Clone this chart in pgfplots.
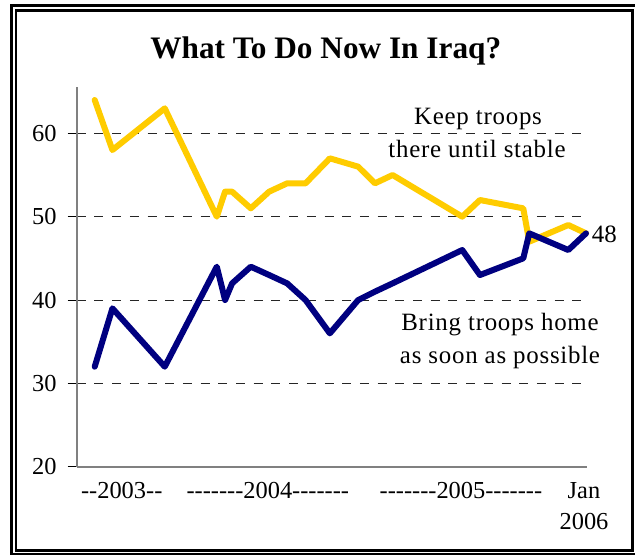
\documentclass[border=0pt]{standalone}
\usepackage{fontspec}
\setmainfont{Liberation Serif}
\usepackage{pgfplots}
\pgfplotsset{compat=1.18}
\definecolor{gold}{HTML}{FFCC00}
\definecolor{navyb}{HTML}{000080}
\newcommand\hy{\mbox{-}}
\newcommand\sev{\hy\hy\hy\hy\hy\hy\hy}
\begin{document}
\begin{tikzpicture}[x=1bp,y=1bp]
\useasboundingbox (0,0) rectangle (635,-556);
\fill[white] (0,0) rectangle (635,-556);
\draw[line width=2.7bp] (11.3,-5.3) rectangle (637.5,-554);
\draw[line width=2.5bp] (16,-10.5) rectangle (632.5,-550.5);
\node[font=\fontsize{31.4}{36}\selectfont\bfseries, anchor=base, inner sep=0pt] at (325.8,-58.3) {What To Do Now In Iraq?};
\begin{axis}[at={(76.7bp,-466.7bp)}, anchor=south west, scale only axis,
  width=510.3bp, height=379.2bp,
  xmin=77, xmax=587, ymin=20, ymax=65.5,
  axis lines=left,
  axis line style={-, draw=gray, line width=1.6bp},
  ytick={20,30,40,50,60},
  ymajorgrids,
  major grid style={black!85, line width=0.8bp, dash pattern=on 9bp off 8.7bp},
  tick align=outside,
  major tick length=9bp,
  ytick style={black, line width=0.8bp},
  xtick style={draw=none},
  xtick={122,268,461,584},
  xticklabels={\hy\hy2003\hy\hy, \sev2004\sev, \sev2005\sev, Jan},
  ticklabel style={font=\fontsize{24.5}{29}\selectfont},
  /pgf/number format/assume math mode=true,
  yticklabel style={anchor=east, inner sep=0pt, xshift=-11bp},
  xticklabel style={anchor=base, inner sep=0pt, yshift=-22.3bp},
  clip=false,
]
\addplot[gold, line width=6bp, line join=round, line cap=round] coordinates {
(95,64) (112.7,58) (165,63) (217,50) (225.3,53) (232.3,53) (251,51) (269.3,53)
(287.3,54) (305.7,54) (330,57) (358.3,56) (375,54) (392.7,55) (462.3,50)
(480,52) (523.3,51) (529.3,47) (568.3,49) (586,48)};
\addplot[navyb, line width=6bp, line join=round, line cap=round] coordinates {
(95,32) (112.7,39) (165,32) (217,44) (225.3,40) (232.3,42) (251,44) (269.3,43)
(287.3,42) (305.7,40) (330,36) (358.3,40) (375,41) (392.7,42) (462.3,46)
(480,43) (523.3,45) (529.3,48) (568.3,46) (586,48)};
\node[anchor=base west, inner sep=0pt, font=\fontsize{25}{30}\selectfont, xshift=5.7bp, yshift=-9.3bp] at (axis cs:586,48) {48};
\end{axis}
\begin{scope}[every node/.style={anchor=base, inner sep=0pt, font=\fontsize{25}{30}\selectfont\addfontfeatures{LetterSpace=3}}]
\node at (478,-125) {Keep troops};
\node at (477,-157.3) {there until stable};
\node at (500,-330) {Bring troops home};
\node at (500,-363.3) {as soon as possible};
\end{scope}
\node[anchor=base, inner sep=0pt, font=\fontsize{24.5}{29}\selectfont] at (584,-529) {2006};
\end{tikzpicture}
\end{document}
